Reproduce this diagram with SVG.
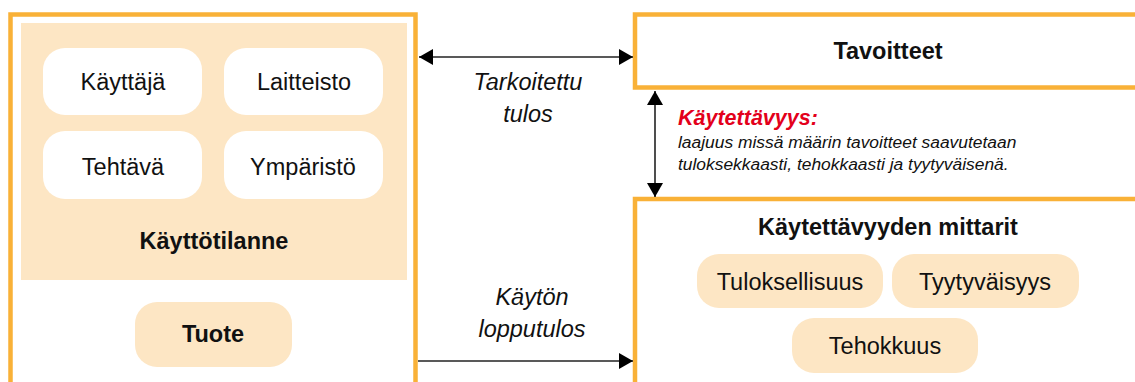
<svg xmlns="http://www.w3.org/2000/svg" width="1135" height="382" viewBox="0 0 1135 382">
  <defs>
    <style>
      .frame { fill: #ffffff; stroke: #F9B137; stroke-width: 4.5; }
      .panel { fill: #FDE6C4; }
      .pill-w { fill: #ffffff; }
      .pill-b { fill: #FDE6C4; }
      .t { font-family: "Liberation Sans", Arial, sans-serif; font-size: 23.5px; fill: #111111; text-anchor: middle; }
      .b { font-weight: bold; }
      .i { font-style: italic; }
      .red { font-family: "Liberation Sans", Arial, sans-serif; font-size: 21.5px; font-weight: bold; font-style: italic; fill: #E3001B; }
      .desc { font-family: "Liberation Sans", Arial, sans-serif; font-size: 17.4px; font-style: italic; fill: #111111; }
      .conn { stroke: #222222; stroke-width: 1.6; fill: none; }
    </style>
    <marker id="head" viewBox="0 0 14 16" refX="14" refY="8" markerWidth="14" markerHeight="16" markerUnits="userSpaceOnUse" orient="auto-start-reverse">
      <path d="M0,0 L14,8 L0,16 Z" fill="#000000"/>
    </marker>
  </defs>

  <!-- usage context and product -->
  <g id="kayttotilanne">
    <rect class="frame" x="10.5" y="14.5" width="405" height="390"/>
    <rect class="panel" x="21" y="23" width="386" height="257"/>
    <text class="t b" x="214" y="249">Käyttötilanne</text>
  </g>
  <g id="kayttaja">
    <rect class="pill-w" x="43" y="48" width="159" height="67" rx="22"/>
    <text class="t" x="123" y="90">Käyttäjä</text>
  </g>
  <g id="laitteisto">
    <rect class="pill-w" x="224" y="48" width="159" height="67" rx="22"/>
    <text class="t" x="304" y="90">Laitteisto</text>
  </g>
  <g id="tehtava">
    <rect class="pill-w" x="43" y="131" width="159" height="68" rx="22"/>
    <text class="t" x="123" y="175">Tehtävä</text>
  </g>
  <g id="ymparisto">
    <rect class="pill-w" x="224" y="131" width="159" height="68" rx="22"/>
    <text class="t" x="303" y="175">Ympäristö</text>
  </g>
  <g id="tuote">
    <rect class="pill-b" x="135" y="302" width="157" height="65" rx="22"/>
    <text class="t b" x="213" y="342">Tuote</text>
  </g>

  <!-- goals -->
  <g id="tavoitteet">
    <rect class="frame" x="635" y="14.5" width="520" height="73"/>
    <text class="t b" x="888" y="59">Tavoitteet</text>
  </g>

  <!-- usability definition -->
  <g id="kaytettavyys">
    <text class="red" x="678" y="125">Käytettävyys:</text>
    <text class="desc" x="678" y="148">laajuus missä määrin tavoitteet saavutetaan</text>
    <text class="desc" x="678" y="170">tuloksekkaasti, tehokkaasti ja tyytyväisenä.</text>
  </g>

  <!-- usability measures -->
  <g id="mittarit">
    <rect class="frame" x="635" y="199" width="520" height="200"/>
    <text class="t b" x="888" y="235">Käytettävyyden mittarit</text>
  </g>
  <g id="tuloksellisuus">
    <rect class="pill-b" x="697" y="254" width="186" height="54" rx="22"/>
    <text class="t" x="790" y="290">Tuloksellisuus</text>
  </g>
  <g id="tyytyvaisyys">
    <rect class="pill-b" x="892" y="254" width="187" height="54" rx="22"/>
    <text class="t" x="985" y="290">Tyytyväisyys</text>
  </g>
  <g id="tehokkuus">
    <rect class="pill-b" x="792" y="318" width="186" height="55" rx="22"/>
    <text class="t" x="885" y="354">Tehokkuus</text>
  </g>

  <!-- connectors -->
  <g id="connectors">
    <line class="conn" x1="419" y1="57" x2="633" y2="57" marker-start="url(#head)" marker-end="url(#head)"/>
    <line class="conn" x1="655" y1="91" x2="655" y2="197" marker-start="url(#head)" marker-end="url(#head)"/>
    <line class="conn" x1="418" y1="361" x2="633" y2="361" marker-end="url(#head)"/>
    <text class="t i" x="528" y="90">Tarkoitettu</text>
    <text class="t i" x="528" y="122">tulos</text>
    <text class="t i" x="532" y="305">Käytön</text>
    <text class="t i" x="532" y="337">lopputulos</text>
  </g>
</svg>
